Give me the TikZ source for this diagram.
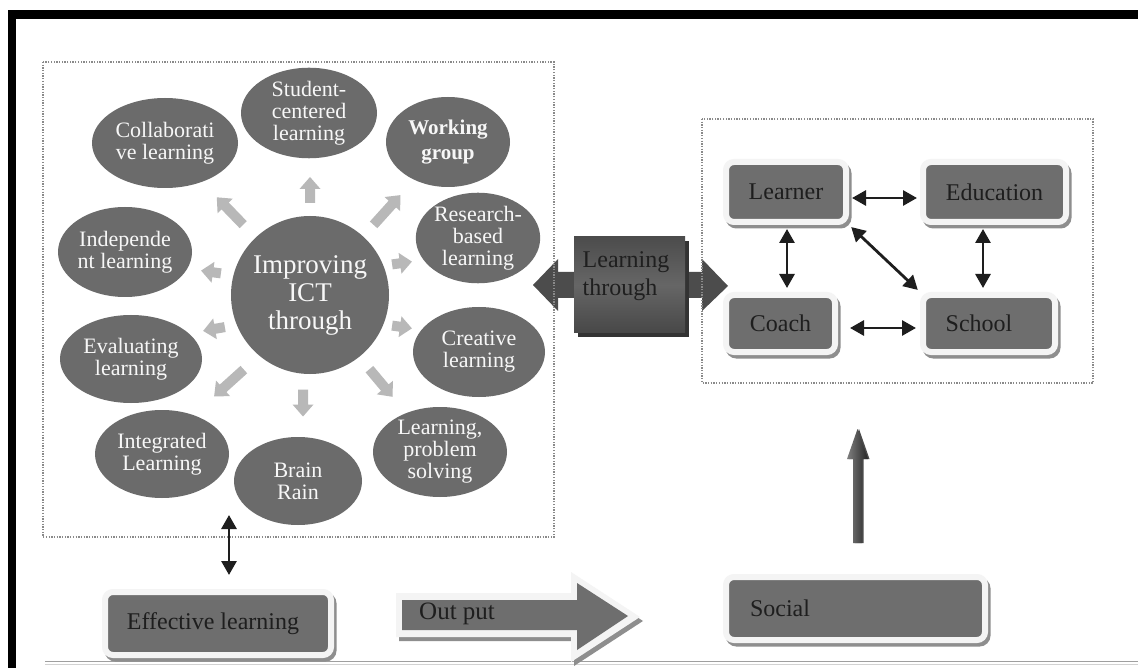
\documentclass[tikz,border=0pt]{standalone}
\usepackage{fontspec}
\setmainfont{Liberation Serif}
\usetikzlibrary{shapes.geometric,arrows.meta}

\definecolor{ovalgrey}{HTML}{6B6B6B}
\definecolor{tilegrey}{HTML}{6E6E6E}
\definecolor{rimwhite}{HTML}{F4F4F4}
\definecolor{rimshadow}{HTML}{8E8E8E}
\definecolor{spokefill}{HTML}{B8B8B8}
\definecolor{dotgrey}{HTML}{8A8A8A}
\definecolor{inkdark}{HTML}{1E1E1E}
\definecolor{calldark}{HTML}{4C4C4C}
\definecolor{callmid}{HTML}{666666}

% light block arrow radiating from the hub: x, y, angle, length
\newcommand\spoke[4]{%
  \fill[spokefill, shift={(#1,#2)}, rotate=#3]
    (-#4/2,-5) -- (#4/2-12,-5) -- (#4/2-12,-10.5) -- (#4/2,0)
    -- (#4/2-12,10.5) -- (#4/2-12,5) -- (-#4/2,5) -- cycle;}

\tikzset{
  oval/.style={ellipse, fill=ovalgrey, text=white!94!gray, inner sep=0pt,
    align=center, font=\fontsize{22}{22}\selectfont},
  tile/.style={rectangle, rounded corners=8pt, fill=tilegrey, draw=rimwhite,
    line width=6pt, inner sep=0pt, text=inkdark,
    font=\fontsize{24}{28}\selectfont,
    preaction={draw=rimshadow, fill=rimshadow, line width=6pt,
      transform canvas={shift={(2.5pt,-3.5pt)}}}},
  dotbox/.style={draw=dotgrey, line width=1.3pt, dash pattern=on 1.3pt off 1.4pt},
  link/.style={{Triangle[length=14pt,width=15pt]}-{Triangle[length=14pt,width=15pt]},
    line width=2.8pt, draw=inkdark, shorten <=3pt, shorten >=3pt},
  plain/.style={inner sep=0pt, text=inkdark, font=\fontsize{24}{28}\selectfont}
}

\begin{document}
\begin{tikzpicture}[x=1pt,y=-1pt]
\useasboundingbox (0,0) rectangle (1138,668);
\fill[white] (0,0) rectangle (1138,668);

% outer frame
\fill[black] (8,10) rectangle (1138,19);
\fill[black] (8,10) rectangle (16,668);
\draw[gray!75, line width=1pt] (45,661.5) -- (1138,661.5);
\draw[gray!35, line width=1pt] (45,664.5) -- (1138,664.5);

% ---------- hub with its ring of learning modes ----------
\node[circle, fill=ovalgrey, minimum size=158pt, inner sep=0pt, align=center,
      text=white!94!gray, font=\fontsize{27}{28}\selectfont]
      (hub) at (310,295) {Improving\\ICT\\through};

\node[oval, minimum width=146pt, minimum height=90pt] (collab) at (165,143) {Collaborati\\ve learning};
\node[oval, minimum width=136pt, minimum height=90pt] (student) at (309,113) {Student-\\centered\\learning};
\node[oval, minimum width=124pt, minimum height=90pt, font=\bfseries\fontsize{21}{25}\selectfont] (working) at (448,142) {Working\\group};
\node[oval, minimum width=118pt, minimum height=90pt] (research) at (478,238) {Research-\\based\\learning};
\node[oval, minimum width=132pt, minimum height=90pt] (creative) at (479,352) {Creative\\learning};
\node[oval, minimum width=134pt, minimum height=90pt] (problem) at (440,452) {Learning,\\problem\\solving};
\node[oval, minimum width=128pt, minimum height=88pt] (brain) at (298,481) {Brain\\Rain};
\node[oval, minimum width=134pt, minimum height=88pt] (integrated) at (162,454) {Integrated\\Learning};
\node[oval, minimum width=142pt, minimum height=88pt] (evaluating) at (131,359) {Evaluating\\learning};
\node[oval, minimum width=134pt, minimum height=90pt] (independent) at (125,252) {Independe\\nt learning};

% radiating block arrows
\spoke{310}{190}{90}{26}
\spoke{230}{211}{134}{38}
\spoke{387}{210}{48}{40}
\spoke{402}{263}{8}{20}
\spoke{402}{327}{-8}{20}
\spoke{381}{383}{-50}{36}
\spoke{303}{403}{-90}{27}
\spoke{229}{383}{222}{40}
\spoke{211}{272}{172}{20}
\spoke{214}{329}{190}{22}

% ---------- "Learning through" double block arrow ----------
\fill[calldark] (533,285) -- (558,259) -- (558,272) -- (574,272) -- (574,298)
  -- (558,298) -- (558,311) -- cycle;
\fill[calldark] (728,286) -- (702,259) -- (702,272) -- (685,272) -- (685,298)
  -- (702,298) -- (702,311) -- cycle;
\fill[black!80] (578,241) rectangle (689,337);
\node[rectangle, minimum width=111pt, minimum height=96pt, inner sep=0pt,
      top color=calldark, bottom color=black!72, middle color=callmid]
      (through) at (629.5,285) {};
\node[plain, align=left, font=\fontsize{24}{28}\selectfont, text=black!88]
      (throughtext) at (626,276) {Learning\\through};

% ---------- panel frames ----------
\draw[dotbox] (43,62) rectangle (554,537);
\draw[dotbox] (702,119) rectangle (1093,383);

% ---------- actors ----------
\node[tile, minimum width=120pt, minimum height=60pt] (learner) at (786,192) {Learner};
\node[tile, minimum width=143pt, minimum height=60pt] (education) at (994.5,192) {Education};
\node[tile, minimum width=109pt, minimum height=57pt] (coach) at (780.5,323.5) {Coach};
\node[tile, minimum width=132pt, minimum height=57pt] (school) at (989,323.5) {\hspace*{-20pt}School};

\draw[link] ([yshift=-6pt]learner.east) -- ([yshift=-6pt]education.west);
\draw[link, shorten <=4pt, shorten >=4pt] ([xshift=1pt]learner.south) -- ([xshift=1pt]learner.south |- coach.north);
\draw[link, shorten <=4pt, shorten >=4pt] ([xshift=-11.5pt]education.south) -- ([xshift=-11.5pt]education.south |- school.north);
\draw[link, shorten <=12pt, shorten >=4pt] ([yshift=-4.5pt]coach.east) -- ([yshift=-4.5pt]coach.east -| school.west);
\draw[link] (learner.south east) -- (school.north west);

% ---------- bottom row ----------
\node[tile, minimum width=226pt, minimum height=63pt] (effective) at (218,623.5) {\hspace*{-10pt}Effective learning};
\coordinate (bridgetop) at (229,515);
\coordinate (bridgebot) at (229,575);
\draw[link, shorten <=0pt, shorten >=0pt] (bridgetop) -- (bridgebot);

% output arrow with light rim and shadow
\fill[rimshadow] (399,597) -- (574,597) -- (574,576) -- (643,621) -- (574,666)
  -- (574,641) -- (399,641) -- cycle;
\fill[rimwhite] (396,593) -- (571,593) -- (571,572) -- (640,617) -- (571,662)
  -- (571,637) -- (396,637) -- cycle;
\fill[tilegrey] (402,600) -- (577,600) -- (577,583) -- (628,616) -- (577,650)
  -- (577,630) -- (402,630) -- cycle;
\node[plain, anchor=west, font=\fontsize{25}{28}\selectfont] (output) at (419,614) {Out put};

\node[tile, minimum width=259pt, minimum height=63pt, text width=211pt,
      inner xsep=24pt, align=left] (social) at (855.5,608.5) {Social};

% upward arrow from the social level
\coordinate (risetail) at (857.5,543);
\coordinate (risetip) at (857.5,429);
\fill[black!70] ([xshift=1.5pt]risetail) ++(-4.5,0) -- ++(9,0) -- ++(0,-84)
  -- ++(6,0) -- ([xshift=1.5pt]risetip) -- ++(-10.5,30) -- ++(6,0) -- cycle;
\shade[left color=black!50, right color=black!85]
  (risetail) ++(-4.5,0) -- ++(9,0) -- ++(0,-84) -- ++(6,0) -- (risetip)
  -- ++(-10.5,30) -- ++(6,0) -- cycle;
\end{tikzpicture}
\end{document}
